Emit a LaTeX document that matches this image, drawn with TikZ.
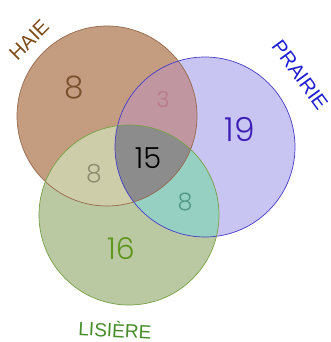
\documentclass[tikz,border=0pt]{standalone}
\usepackage{fontspec}
\setmainfont{Liberation Sans}
\newfontfamily\numfont{Poppins Light}
\definecolor{asolo}{RGB}{196,157,128}
\definecolor{bsolo}{RGB}{201,197,242}
\definecolor{csolo}{RGB}{186,201,162}
\definecolor{abcol}{RGB}{192,150,160}
\definecolor{accol}{RGB}{206,205,170}
\definecolor{bccol}{RGB}{150,208,195}
\definecolor{abccol}{RGB}{140,140,140}
\definecolor{aline}{RGB}{150,105,75}
\definecolor{bline}{RGB}{70,60,200}
\definecolor{cline}{RGB}{120,160,70}
\definecolor{haiec}{RGB}{125,75,25}
\definecolor{prairiec}{RGB}{30,30,210}
\definecolor{lisierec}{RGB}{70,140,40}
\definecolor{nA}{RGB}{120,80,45}
\definecolor{nAB}{RGB}{185,120,140}
\definecolor{nB}{RGB}{60,30,180}
\definecolor{nAC}{RGB}{140,140,110}
\definecolor{nBC}{RGB}{80,150,130}
\definecolor{nC}{RGB}{95,150,30}
\tikzset{
  setlabel/.style={font=\fontsize{20}{20}\selectfont, inner sep=0pt},
  num/.style={font=\numfont\fontsize{#1}{#1}\selectfont, inner sep=0pt},
}
\begin{document}
\begin{tikzpicture}[x=1pt,y=-1pt]
\useasboundingbox (0,0) rectangle (330,342);
\coordinate (ca) at (107,116);
\coordinate (cb) at (205,147);
\coordinate (cc) at (129,215);
% solo fills
\fill[asolo] (ca) circle[radius=90pt];
\fill[bsolo] (cb) circle[radius=90pt];
\fill[csolo] (cc) circle[radius=90pt];
% pairwise
\begin{scope}
  \clip (ca) circle[radius=90pt];
  \fill[abcol] (cb) circle[radius=90pt];
\end{scope}
\begin{scope}
  \clip (ca) circle[radius=90pt];
  \fill[accol] (cc) circle[radius=90pt];
\end{scope}
\begin{scope}
  \clip (cb) circle[radius=90pt];
  \fill[bccol] (cc) circle[radius=90pt];
\end{scope}
\begin{scope}
  \clip (ca) circle[radius=90pt];
  \clip (cb) circle[radius=90pt];
  \fill[abccol] (cc) circle[radius=90pt];
\end{scope}
% outlines
\draw[aline, line width=0.7pt] (ca) circle[radius=90pt];
\draw[bline, line width=0.7pt] (cb) circle[radius=90pt];
\draw[cline, line width=0.7pt] (cc) circle[radius=90pt];
% numbers
\node[num=31, text=nA] (na) at (74,88) {8};
\node[num=22, text=nAB] (nab) at (163,100) {3};
\node[num=33, text=nB] (nb) at (240,130) {19};
\node[num=29, text=black] (nabc) at (148,158) {15};
\node[num=25, text=nAC] (nac) at (94,174) {8};
\node[num=24, text=nBC] (nbc) at (185,202) {8};
\node[num=30, text=nC] (nc) at (121,249) {16};
% labels
\node[setlabel, text=haiec, rotate=45] (haie) at (29,40) {HAIE};
\node[setlabel, text=prairiec, rotate=-54] (prairie) at (300,75) {PRAIRIE};
\node[setlabel, text=lisierec, rotate=-3, font=\fontsize{19}{19}\selectfont] (lisiere) at (115,329) {LISIÈRE};
\end{tikzpicture}
\end{document}
